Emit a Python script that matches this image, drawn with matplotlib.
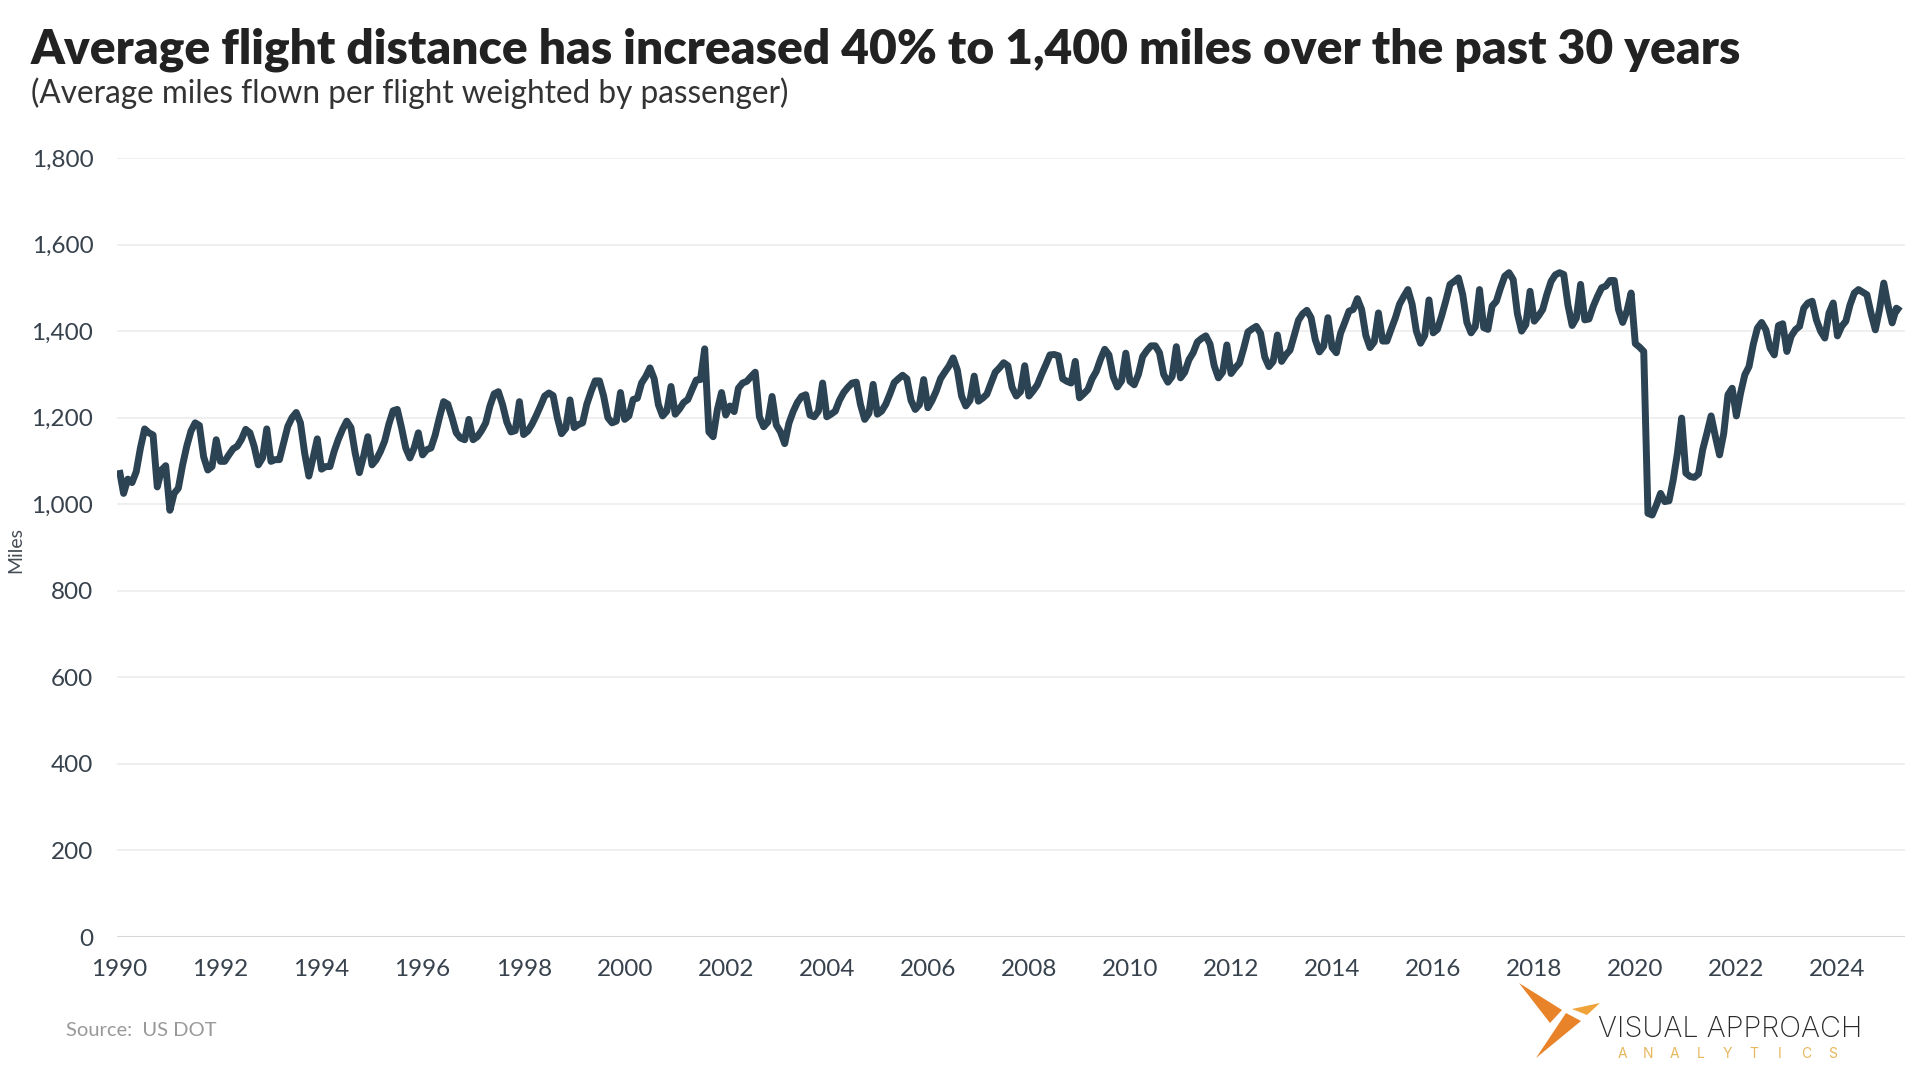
import numpy as np
import pandas as pd
import matplotlib.pyplot as plt
from matplotlib.patches import Polygon

# average miles flown per flight, monthly, Jan 1990 - Apr 2025
start_month = "1990-01-01"
miles = [
    1079, 1025, 1058, 1050, 1075, 1130, 1174, 1165, 1160, 1040, 1079, 1089,  # 1990
    986, 1025, 1037, 1090, 1134, 1169, 1188, 1182, 1110, 1079, 1087, 1149,   # 1991
    1099, 1099, 1114, 1128, 1134, 1150, 1173, 1165, 1134, 1091, 1107, 1174,  # 1992
    1099, 1103, 1103, 1142, 1180, 1200, 1212, 1188, 1118, 1065, 1107, 1151,  # 1993
    1081, 1087, 1087, 1122, 1150, 1173, 1192, 1177, 1118, 1073, 1111, 1156,  # 1994
    1091, 1103, 1122, 1146, 1185, 1216, 1219, 1177, 1130, 1107, 1130, 1165,  # 1995
    1114, 1126, 1130, 1160, 1200, 1237, 1231, 1200, 1165, 1153, 1149, 1196,  # 1996
    1149, 1156, 1170, 1188, 1227, 1255, 1260, 1230, 1190, 1167, 1170, 1237,  # 1997
    1161, 1169, 1185, 1205, 1227, 1250, 1257, 1251, 1200, 1163, 1175, 1241,  # 1998
    1177, 1184, 1188, 1231, 1260, 1285, 1285, 1250, 1200, 1188, 1192, 1258,  # 1999
    1196, 1204, 1242, 1245, 1280, 1295, 1315, 1290, 1230, 1204, 1215, 1272,  # 2000
    1208, 1220, 1235, 1242, 1265, 1287, 1288, 1359, 1167, 1156, 1218, 1258,  # 2001
    1206, 1227, 1214, 1268, 1280, 1284, 1295, 1305, 1202, 1179, 1190, 1249,  # 2002
    1183, 1167, 1140, 1187, 1214, 1235, 1249, 1253, 1206, 1202, 1215, 1280,  # 2003
    1202, 1208, 1215, 1240, 1258, 1270, 1280, 1282, 1230, 1196, 1210, 1277,  # 2004
    1208, 1215, 1231, 1255, 1281, 1290, 1298, 1290, 1240, 1219, 1230, 1288,  # 2005
    1223, 1240, 1262, 1290, 1305, 1319, 1338, 1310, 1250, 1227, 1240, 1296,  # 2006
    1238, 1245, 1254, 1280, 1305, 1315, 1327, 1320, 1270, 1250, 1260, 1320,  # 2007
    1250, 1262, 1276, 1300, 1322, 1345, 1346, 1343, 1290, 1284, 1280, 1330,  # 2008
    1246, 1255, 1265, 1290, 1307, 1335, 1358, 1345, 1295, 1271, 1285, 1349,  # 2009
    1284, 1276, 1300, 1341, 1355, 1366, 1366, 1350, 1300, 1282, 1295, 1364,  # 2010
    1292, 1305, 1334, 1350, 1375, 1383, 1389, 1370, 1320, 1292, 1305, 1368,  # 2011
    1302, 1315, 1326, 1360, 1398, 1405, 1411, 1395, 1340, 1318, 1330, 1391,  # 2012
    1330, 1345, 1356, 1390, 1425, 1440, 1448, 1431, 1380, 1352, 1365, 1431,  # 2013
    1362, 1350, 1395, 1420, 1446, 1450, 1475, 1450, 1390, 1362, 1375, 1442,  # 2014
    1377, 1377, 1404, 1430, 1462, 1480, 1496, 1462, 1400, 1372, 1390, 1472,  # 2015
    1396, 1404, 1435, 1470, 1508, 1515, 1523, 1485, 1420, 1396, 1410, 1496,  # 2016
    1408, 1404, 1458, 1469, 1500, 1527, 1535, 1519, 1440, 1400, 1415, 1492,  # 2017
    1423, 1435, 1450, 1485, 1515, 1530, 1535, 1531, 1460, 1413, 1430, 1508,  # 2018
    1426, 1428, 1457, 1480, 1500, 1504, 1517, 1517, 1450, 1420, 1446, 1488,  # 2019
    1371, 1363, 1353, 979, 975, 998, 1025, 1006, 1008, 1056, 1118, 1199,     # 2020
    1072, 1064, 1062, 1070, 1126, 1164, 1204, 1157, 1114, 1164, 1253, 1268,  # 2021
    1204, 1257, 1299, 1318, 1369, 1407, 1420, 1403, 1361, 1345, 1413, 1417,  # 2022
    1353, 1388, 1403, 1411, 1453, 1465, 1469, 1426, 1400, 1384, 1442, 1465,  # 2023
    1389, 1411, 1423, 1461, 1488, 1496, 1490, 1484, 1440, 1403, 1450, 1511,  # 2024
    1460, 1419, 1453, 1446,                                                  # 2025
]

y_ticks = [0, 200, 400, 600, 800, 1000, 1200, 1400, 1600, 1800]
x_ticks = list(range(1990, 2025, 2))

title = "Average flight distance has increased 40% to 1,400 miles over the past 30 years"
subtitle = "(Average miles flown per flight weighted by passenger)"
source = "Source:  US DOT"

LINE = "#2c4354"
TICK = "#37424d"

dates = pd.date_range(start_month, periods=len(miles), freq="MS")
x = dates.year + (dates.month - 1) / 12.0

W, H = 1920, 1083


def px(xp, yp):
    # pixel position (from top-left) -> figure fraction
    return xp / W, 1 - yp / H


plt.rcParams["font.family"] = ["Lato", "DejaVu Sans"]

fig = plt.figure(figsize=(W / 100, H / 100), dpi=100)
fig.patch.set_facecolor("white")

ax = fig.add_axes([117 / W, 1 - 937 / H, (1905 - 117) / W, (937 - 158) / H])
ax.plot(x, miles, color=LINE, lw=5.0, solid_joinstyle="round", solid_capstyle="butt", zorder=3)

ax.set_ylim(0, 1800)
ax.set_xlim(1989.953, 2025.337)
ax.set_yticks(y_ticks)
ax.set_yticklabels([f"{v:,}" for v in y_ticks])
ax.set_xticks(x_ticks)
ax.set_xticklabels([str(v) for v in x_ticks])

ax.yaxis.grid(True, color="#ececec", lw=1.2)
ax.xaxis.grid(False)
ax.axhline(0, color="#d6d6d6", lw=1.5, zorder=2)
ax.set_axisbelow(True)
for s in ax.spines.values():
    s.set_visible(False)
ax.tick_params(axis="both", length=0, labelsize=17.5, labelcolor=TICK)
ax.tick_params(axis="y", pad=17)
ax.tick_params(axis="x", pad=15.5)

fig.text(*px(16, 550), "Miles", rotation=90, ha="center", va="center", fontsize=14, color="#444c55")

fig.text(*px(31, 64), title, fontsize=34.5, fontweight="heavy", color="#222222", va="baseline")
fig.text(*px(31, 103), subtitle, fontsize=22.7, color="#333333", va="baseline")
fig.text(*px(66, 1031), source, fontsize=14.5, color="#999999", va="center")

# logo
orange = "#e8832a"
logo_shapes = [
    ([(1519, 983), (1562, 1010), (1550, 1023)], orange),
    ([(1572, 1009), (1600, 1003), (1587, 1015)], "#f0a33a"),
    ([(1566, 1013), (1581, 1021), (1536, 1058)], orange),
]
for pts, c in logo_shapes:
    fig.patches.append(Polygon([px(a, b) for a, b in pts], closed=True, transform=fig.transFigure,
                               facecolor=c, edgecolor="none"))
fig.text(*px(1598, 1037), "VISUAL APPROACH", fontsize=20.8, family=["Inter", "DejaVu Sans"],
         fontweight="light", color="#2b2b2b", va="baseline")
for i, ch in enumerate("ANALYTICS"):
    fig.text(*px(1622 + i * 26.3, 1058), ch, fontsize=10, family=["Inter", "DejaVu Sans"],
             color="#e6b75c", ha="center", va="baseline")

fig.savefig("out.png", dpi=100)
